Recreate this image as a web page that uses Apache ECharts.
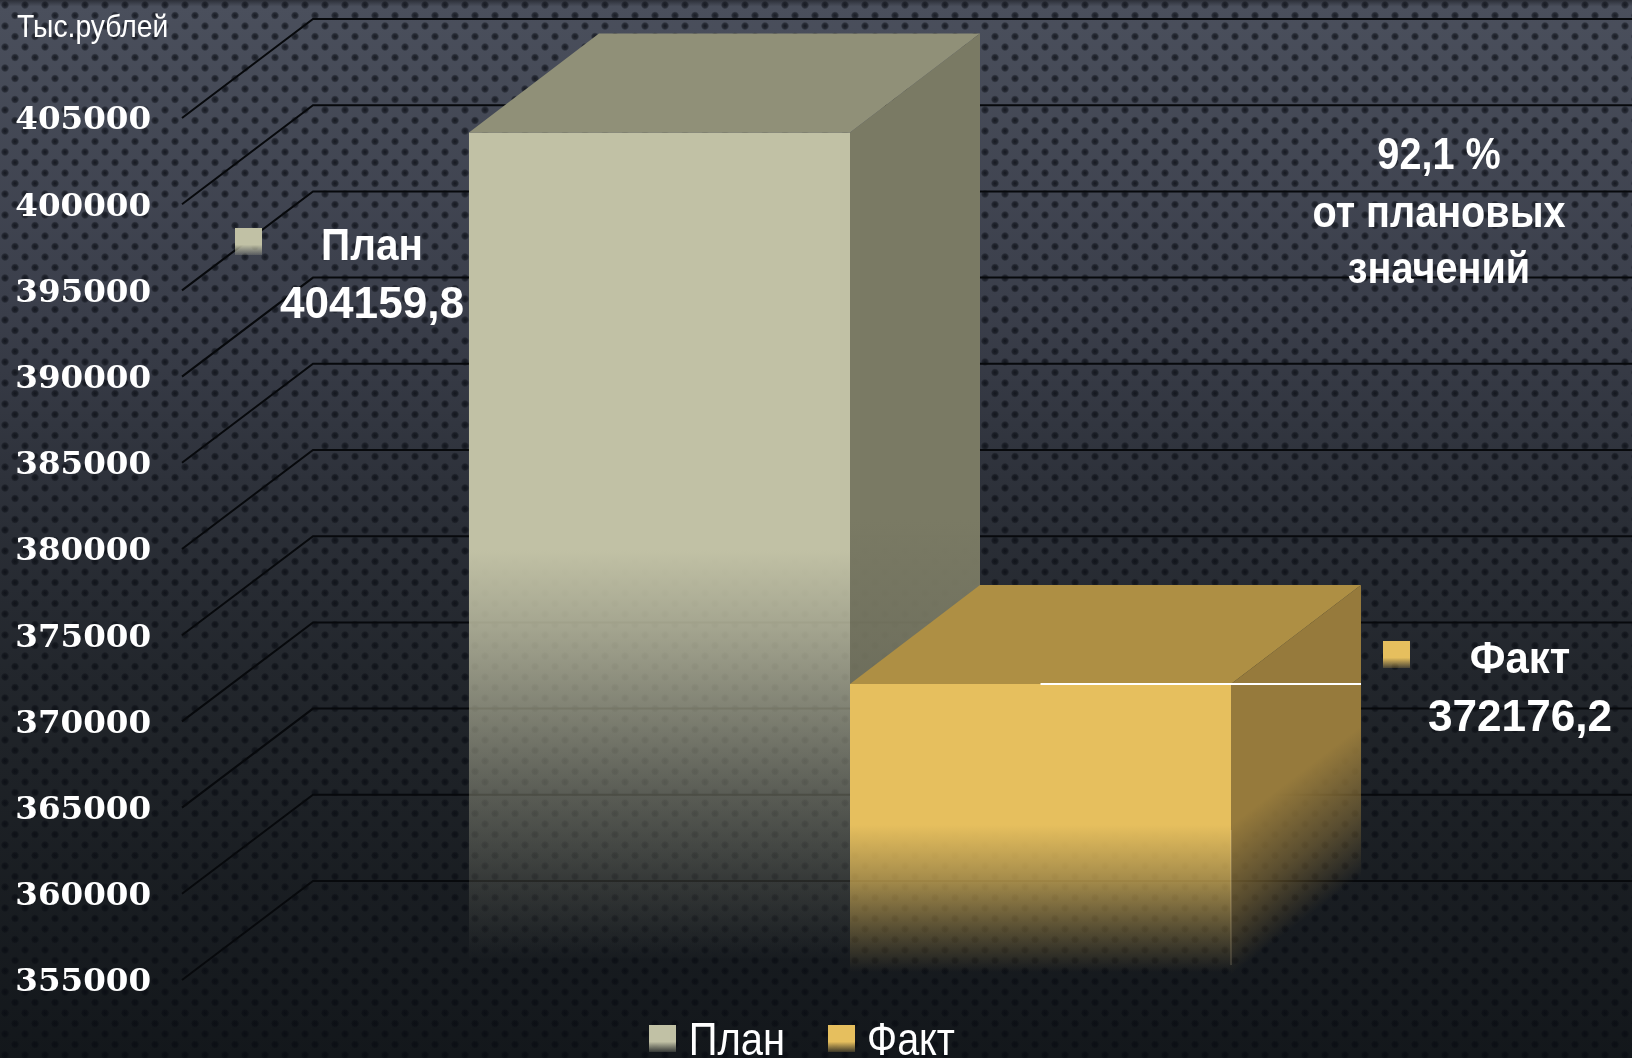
<!DOCTYPE html>
<html>
<head>
<meta charset="utf-8">
<script src="https://cdn.jsdelivr.net/npm/echarts@6/dist/echarts.min.js"></script>
<style>
	html, body { margin: 0; padding: 0; background: #13171b; overflow: hidden; }
	#main { width: 1632px; height: 1058px; }
</style>
</head>
<body>
<div id="main"></div>
<script>
// data
const categories = ['2016'];
const seriesNames = ['План', 'Факт'];
const planValues = [404159.8];
const factValues = [372176.2];
const tickValues = [355000, 360000, 365000, 370000, 375000, 380000, 385000, 390000, 395000, 400000, 405000];
const unitLabel = 'Тыс.рублей';
const percentNote = ['92,1 %', 'от плановых', 'значений'];

const axisMin = 355000;
const axisMax = 405000;
const axisStep = 5000;

// 3d look: shift of the back wall against the front plane
const depthX = 130;
const depthY = 99;
const barRatio = 0.2852;

const H = 1058;
const W = 1632;

function fade(rgb, stops) {
	return {
		type: 'linear', x: 0, y: 0, x2: 0, y2: H, global: true,
		colorStops: stops.map(function (s) {
			return { offset: s[0] / H, color: 'rgba(' + rgb + ',' + s[1] + ')' };
		}),
	};
}

const planFront = fade('193,193,165', [[0, 1], [550, 1], [625, 0.82], [708, 0.6], [795, 0.37], [880, 0.17], [960, 0]]);
const planSide = fade('122,122,100', [[0, 1], [520, 1], [690, 0.85], [760, 0]]);
const factFront = fade('230,191,94', [[0, 1], [825, 1], [880, 0.68], [930, 0.3], [972, 0]]);

// side of Факт fades along the depth, not straight down
function factSide(x1, base) {
	const nx = depthY, ny = depthX;
	const k = 150 * ny / (nx * nx + ny * ny);
	const y0 = base - 155;
	return {
		type: 'linear', x: x1, y: y0, x2: x1 + k * nx, y2: y0 + k * ny, global: true,
		colorStops: [
			{ offset: 0, color: 'rgba(150,122,60,1)' },
			{ offset: 0.55, color: 'rgba(150,122,60,0.5)' },
			{ offset: 1, color: 'rgba(150,122,60,0)' },
		],
	};
}

const boxColors = [
	{ front: planFront, top: '#909078', side: function () { return planSide; } },
	{ front: factFront, top: '#ae8f44', side: factSide },
];

function legendFill(rgb) {
	return {
		type: 'linear', x: 0, y: 0, x2: 0, y2: 1,
		colorStops: [
			{ offset: 0, color: 'rgb(' + rgb + ')' },
			{ offset: 0.62, color: 'rgb(' + rgb + ')' },
			{ offset: 1, color: 'rgba(' + rgb + ',0.2)' },
		],
	};
}

// dotted texture of the slide
function dotTile() {
	const c = document.createElement('canvas');
	c.width = 20;
	c.height = 21;
	const ctx = c.getContext('2d');
	[[5, 5], [15, 15.5]].forEach(function (p) {
		const g = ctx.createRadialGradient(p[0], p[1], 0.5, p[0], p[1], 4.2);
		g.addColorStop(0, 'rgba(8,11,18,0.72)');
		g.addColorStop(0.6, 'rgba(8,11,18,0.5)');
		g.addColorStop(1, 'rgba(8,11,18,0)');
		ctx.fillStyle = g;
		ctx.beginPath();
		ctx.arc(p[0], p[1], 4.2, 0, Math.PI * 2);
		ctx.fill();
	});
	return c;
}

function renderGridLine(params, api) {
	const y = api.coord([0, api.value(0)])[1];
	const left = params.coordSys.x;
	return {
		type: 'polyline',
		shape: { points: [[left, y], [left + depthX + 1, y - depthY], [W, y - depthY]] },
		style: { fill: null, stroke: '#07090c', lineWidth: 2 },
	};
}

function renderBox(params, api) {
	const idx = params.seriesIndex - 1;
	const colors = boxColors[idx];
	const p = api.coord([api.value(0), api.value(1)]);
	const base = api.coord([api.value(0), axisMin])[1];
	const bw = api.size([1, 0])[0] * barRatio;
	const x0 = p[0] + (idx - 1) * bw;
	const x1 = x0 + bw;
	const y = p[1];
	const children = [
		{
			type: 'polygon',
			shape: { points: [[x1, y], [x1 + depthX, y - depthY], [x1 + depthX, base - depthY], [x1, base]] },
			style: { fill: colors.side(x1, base) },
		},
		{
			type: 'rect',
			shape: { x: x0, y: y, width: bw, height: base - y },
			style: { fill: colors.front },
		},
		{
			type: 'polygon',
			shape: { points: [[x0, y], [x0 + depthX, y - depthY], [x1 + depthX, y - depthY], [x1, y]] },
			style: { fill: colors.top },
		},
	];
	if (idx === 1) {
		// white leader line under the Факт label
		children.push({
			type: 'line',
			shape: { x1: x0 + bw / 2, y1: y, x2: x1 + depthX, y2: y },
			style: { stroke: '#ffffff', lineWidth: 2 },
		});
		// faint light edge down the fading part
		children.push({
			type: 'line',
			shape: { x1: x1, y1: base - 150, x2: x1, y2: base - 15 },
			style: { stroke: 'rgba(255,235,190,0.28)', lineWidth: 1 },
		});
	}
	return { type: 'group', children: children };
}

function note(text, x, y, size, scaleX, weight, align) {
	return {
		type: 'text',
		z: 100,
		x: x,
		y: y,
		scaleX: scaleX || 1,
		style: {
			text: text,
			fill: '#ffffff',
			font: (weight || 'bold') + ' ' + size + 'px "Liberation Sans"',
			textAlign: align || 'center',
			textVerticalAlign: 'middle',
		},
	};
}

function marker(x, y, rgb) {
	return {
		type: 'rect',
		z: 100,
		shape: { x: x, y: y, width: 27, height: 27 },
		style: { fill: legendFill(rgb) },
	};
}

function valueText(v) {
	return String(v).replace('.', ',');
}

const myChart = echarts.init(document.getElementById('main'), null, { renderer: 'canvas' });

const option = {
	animation: false,
	grid: { left: 182, top: 118, width: 1336, height: 862 },
	xAxis: { type: 'category', data: categories, show: false },
	yAxis: {
		type: 'value',
		min: axisMin,
		max: axisMax,
		interval: axisStep,
		axisLine: { show: false },
		axisTick: { show: false },
		splitLine: { show: false },
		axisLabel: {
			margin: 31,
			formatter: function (v) { return '{t|' + v + '}'; },
			rich: {
				t: {
					padding: [6, 0, 0, 0],
					color: '#ffffff',
					fontFamily: 'DejaVu Serif',
					fontWeight: 'bold',
					fontSize: 32.5,
				},
			},
		},
	},
	// legend keeps the swatches only, its narrow captions are scaled text below
	legend: {
		left: 649,
		top: 1025,
		padding: 0,
		itemWidth: 27,
		itemHeight: 27,
		itemGap: 152,
		icon: 'rect',
		formatter: function () { return ''; },
		data: [
			{ name: seriesNames[0], itemStyle: { color: legendFill('193,193,165') } },
			{ name: seriesNames[1], itemStyle: { color: legendFill('230,191,94') } },
		],
	},
	series: [
		{
			type: 'custom',
			name: 'grid',
			renderItem: renderGridLine,
			data: tickValues.map(function (v) { return [v]; }),
			encode: { y: 0 },
			silent: true,
			clip: false,
			z: 1,
		},
		{
			type: 'custom',
			name: seriesNames[0],
			renderItem: renderBox,
			data: planValues.map(function (v, i) { return [i, v]; }),
			encode: { x: 0, y: 1 },
			clip: false,
			z: 2,
		},
		{
			type: 'custom',
			name: seriesNames[1],
			renderItem: renderBox,
			data: factValues.map(function (v, i) { return [i, v]; }),
			encode: { x: 0, y: 1 },
			clip: false,
			z: 3,
		},
	],
	graphic: {
		elements: [
			{
				type: 'rect',
				z: -20,
				silent: true,
				shape: { x: 0, y: 0, width: W, height: H },
				style: {
					fill: {
						type: 'linear', x: 0, y: 0, x2: 0, y2: 1,
						colorStops: [
							{ offset: 0, color: '#2c2f38' },
							{ offset: 0.006, color: '#4a4f5c' },
							{ offset: 0.3, color: '#3a3e4a' },
							{ offset: 0.5, color: '#2a2e36' },
							{ offset: 0.7, color: '#1f2328' },
							{ offset: 1, color: '#13171b' },
						],
					},
				},
			},
			{
				type: 'rect',
				z: -19,
				silent: true,
				shape: { x: 0, y: 0, width: W, height: H },
				style: { fill: { image: dotTile(), repeat: 'repeat' } },
			},
			note(unitLabel, 17, 28, 32, 0.885, 'normal', 'left'),
			marker(235, 228, '193,193,165'),
			note(seriesNames[0], 372, 248, 44, 0.92),
			note(valueText(planValues[0]), 372, 306, 45, 0.98),
			marker(1383, 641, '230,191,94'),
			note(seriesNames[1], 1520, 661, 44, 0.95),
			note(valueText(factValues[0]), 1520, 719, 45, 0.98),
			note(percentNote[0], 1439, 157, 44, 0.9),
			note(percentNote[1], 1439, 215, 44, 0.9),
			note(percentNote[2], 1439, 271, 44, 0.9),
			note(seriesNames[0], 737, 1042, 47, 0.85, 'normal'),
			note(seriesNames[1], 911, 1042, 47, 0.84, 'normal'),
		],
	},
};

myChart.setOption(option);
</script>
</body>
</html>
